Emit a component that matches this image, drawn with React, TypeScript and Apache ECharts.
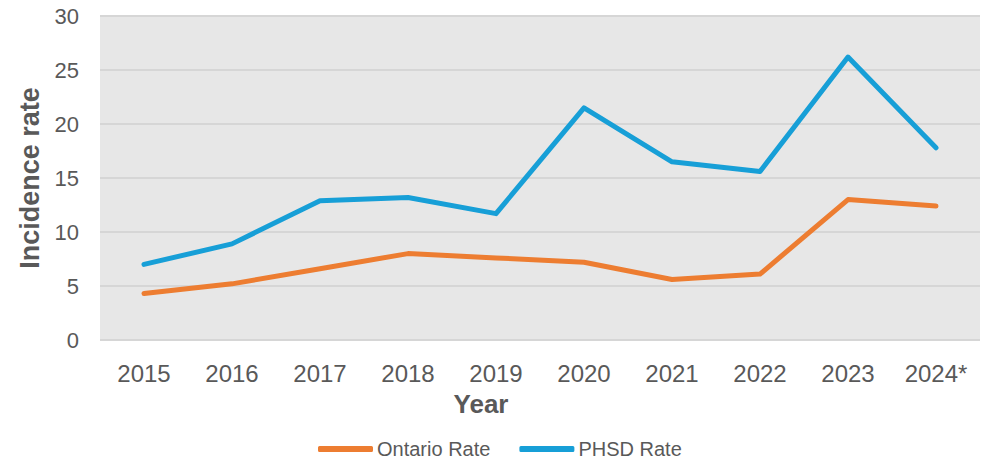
import React, { useEffect, useRef } from "react";
import * as echarts from "echarts";

const years = ["2015", "2016", "2017", "2018", "2019", "2020", "2021", "2022", "2023", "2024*"];
const ontarioRate = [4.3, 5.2, 6.6, 8.0, 7.6, 7.2, 5.6, 6.1, 13.0, 12.4];
const phsdRate = [7.0, 8.9, 12.9, 13.2, 11.7, 21.5, 16.5, 15.6, 26.2, 17.8];
const yTicks = { min: 0, max: 30, interval: 5 };

export default function App() {
  const ref = useRef<HTMLDivElement>(null);
  useEffect(() => {
    if (!ref.current) return;
    const chart = echarts.init(ref.current, undefined, { renderer: "svg" });
    const tickFont = "'Liberation Sans', Arial, sans-serif";
    chart.setOption({
      animation: false,
      backgroundColor: "#ffffff",
      grid: {
        left: 100,
        right: 1,
        top: 16,
        bottom: 121,
        show: true,
        backgroundColor: "#E7E7E7",
        borderWidth: 0,
      },
      xAxis: {
        type: "category",
        data: years,
        boundaryGap: true,
        axisLine: { show: false },
        axisTick: { show: false },
        axisLabel: { color: "#595959", fontSize: 24, fontFamily: tickFont, margin: 21 },
        splitLine: { show: false },
      },
      yAxis: {
        type: "value",
        min: yTicks.min,
        max: yTicks.max,
        interval: yTicks.interval,
        axisLine: { show: false },
        axisTick: { show: false },
        axisLabel: { color: "#595959", fontSize: 22, fontFamily: tickFont, margin: 21 },
        splitLine: { show: true, lineStyle: { color: "#D6D6D6", width: 2 } },
      },
      legend: {
        top: 439,
        left: 318,
        padding: 0,
        itemWidth: 55,
        itemHeight: 6,
        itemGap: 29,
        icon: "roundRect",
        textStyle: {
          color: "#595959",
          fontSize: 20,
          fontFamily: tickFont,
          padding: [0, 0, 0, -1],
        },
        data: ["Ontario Rate", "PHSD Rate"],
      },
      graphic: [
        {
          type: "text",
          x: 30,
          y: 178,
          rotation: Math.PI / 2,
          style: {
            text: "Incidence rate",
            fill: "#595959",
            font: "bold 27px 'Liberation Sans', Arial, sans-serif",
            textAlign: "center",
            textVerticalAlign: "middle",
          },
        },
        {
          type: "text",
          x: 481,
          y: 404,
          style: {
            text: "Year",
            fill: "#595959",
            font: "bold 26px 'Liberation Sans', Arial, sans-serif",
            textAlign: "center",
            textVerticalAlign: "middle",
          },
        },
      ],
      series: [
        {
          name: "Ontario Rate",
          type: "line",
          data: ontarioRate,
          showSymbol: false,
          symbol: "none",
          color: "#ED7D31",
          lineStyle: { width: 5, color: "#ED7D31", cap: "round", join: "round" },
        },
        {
          name: "PHSD Rate",
          type: "line",
          data: phsdRate,
          showSymbol: false,
          symbol: "none",
          color: "#179FD7",
          lineStyle: { width: 5, color: "#179FD7", cap: "round", join: "round" },
        },
      ],
    });
    return () => chart.dispose();
  }, []);
  return (
    <div
      ref={ref}
      style={{ position: "fixed", left: 0, top: 0, width: 981, height: 461 }}
    />
  );
}
